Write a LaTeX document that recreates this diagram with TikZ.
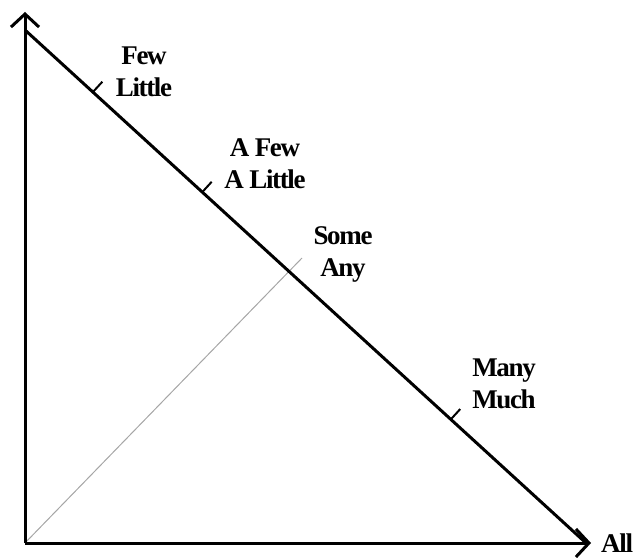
\documentclass[tikz,border=0pt]{standalone}
\usepackage{fontspec}
\setmainfont{Liberation Serif}
\usetikzlibrary{arrows.meta,calc}
\begin{document}
\begin{tikzpicture}[x=1pt,y=1pt, every node/.style={font=\fontsize{27}{32}\selectfont\bfseries\addfontfeatures{LetterSpace=-5}}]
  \tikzstyle{axis}=[line width=3pt,-{Straight Barb[length=13pt,width=28pt,line width=3pt]}]
  \tikzstyle{lbl}=[align=center,inner sep=0pt]
  \tikzstyle{tickln}=[line width=2pt]
  \useasboundingbox (0,0) rectangle (637,557);
  \coordinate (o) at (25,14);
  \coordinate (top) at (25,545);
  \coordinate (right) at (591,14);
  \coordinate (d0) at (25,527);
  \coordinate (d1) at (586,14);
  \coordinate (s) at (302,299);
  \draw[gray!70,line width=1pt] (o) -- (s);
  \draw[axis] (o) -- (top);
  \draw[axis] (o) -- (right);
  \draw[line width=3pt] (d0) -- (d1);
  \coordinate (t1) at ($(d0)!0.121!(d1)$);
  \coordinate (t2) at ($(d0)!0.316!(d1)$);
  \coordinate (t3) at ($(d0)!0.759!(d1)$);
  \draw[tickln] (t1) -- ($(t1)!14pt!90:(d1)$);
  \draw[tickln] (t2) -- ($(t2)!14pt!90:(d1)$);
  \draw[tickln] (t3) -- ($(t3)!14pt!90:(d1)$);
  \node[lbl] (few) at (144,485) {Few\\Little};
  \node[lbl] (afew) at (265,393) {A Few\\A Little};
  \node[lbl] (some) at (343,303) {Some\\Any};
  \node[lbl] (many) at (504,173) {Many\\Much};
  \node[lbl,anchor=west] (all) at (601,14) {All};
\end{tikzpicture}
\end{document}
